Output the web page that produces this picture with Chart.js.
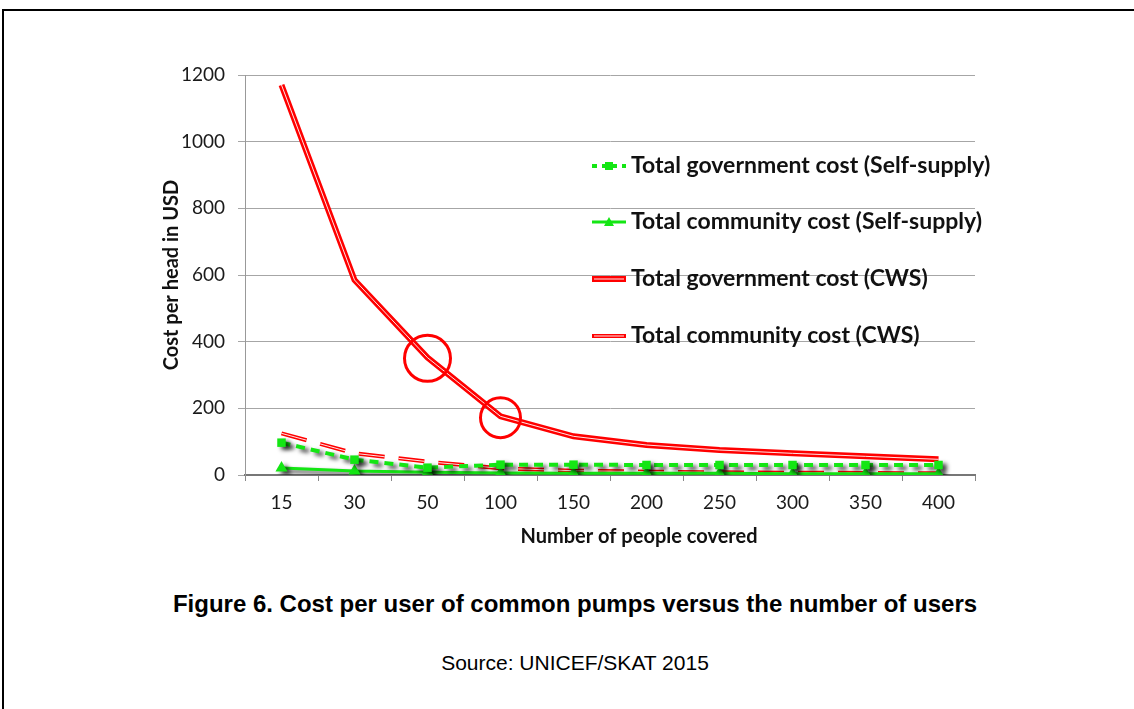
<!DOCTYPE html>
<html>
<head>
<meta charset="utf-8">
<script src="https://cdn.jsdelivr.net/npm/chart.js@4.4.1/dist/chart.umd.min.js"></script>
<style>
  html, body { margin: 0; padding: 0; background: #fff; }
  body { width: 1134px; height: 709px; position: relative; overflow: hidden; }
  #frame { position: absolute; left: 2px; top: 9px; width: 1140px; height: 710px;
           border-top: 2px solid #000; border-left: 2px solid #000; }
  #wrap { position: absolute; left: 0; top: 0; width: 1134px; height: 560px; }
  #caption { position: absolute; left: 0; width: 1150px; top: 590px; text-align: center;
             font-family: "Liberation Sans", Arial, sans-serif; font-weight: bold; font-size: 24px; color: #000; }
  #source { position: absolute; left: 0; width: 1150px; top: 651px; text-align: center;
            font-family: "Liberation Sans", Arial, sans-serif; font-size: 21px; color: #000; }
</style>
</head>
<body>
<div id="frame"></div>
<div id="wrap"><canvas id="c" width="1134" height="560"></canvas></div>
<div id="caption">Figure 6. Cost per user of common pumps versus the number of users</div>
<div id="source">Source: UNICEF/SKAT 2015</div>
<script>
// ---- data ----
const categories = ['15', '30', '50', '100', '150', '200', '250', '300', '350', '400'];
const govSelfSupply = [97, 46, 22, 31, 31, 30, 30, 30, 30, 30];
const communitySelfSupply = [21, 12, 8, 6, 5, 5, 5, 4, 4, 4];
const govCWS = [1170, 585, 352, 176, 116, 90, 75, 65, 56, 47];
const communityCWS = [125, 65, 40, 20, 13, 10, 8, 7, 6, 5];
const circledPoints = [null, null, 350, 172, null, null, null, null, null, null];
const yTicks = [0, 200, 400, 600, 800, 1000, 1200];
const seriesNames = [
  'Total government cost (Self-supply)',
  'Total community cost (Self-supply)',
  'Total government cost (CWS)',
  'Total community cost (CWS)'
];
const xTitle = 'Number of people covered';

const GREEN = '#14e614';
const RED = '#ff0000';
const FONT = 'Lato, "Open Sans", sans-serif';

Chart.defaults.font.family = FONT;
Chart.defaults.color = '#1a1a1a';

// shadow + double line plugin
const stylePlugin = {
  id: 'stylePlugin',
  beforeDatasetDraw(chart, args) {
    const ds = chart.data.datasets[args.index];
    const ctx = chart.ctx;
    ctx.save();
    if (ds.shadow) {
      ctx.shadowColor = 'rgba(0,0,0,0.75)';
      ctx.shadowBlur = 4;
      ctx.shadowOffsetX = 4;
      ctx.shadowOffsetY = 3;
    }
  },
  afterDatasetDraw(chart, args) {
    const ds = chart.data.datasets[args.index];
    const ctx = chart.ctx;
    ctx.restore();
    if (ds.doubleLine) {
      const pts = args.meta.data;
      ctx.save();
      ctx.strokeStyle = 'rgba(255,255,255,0.9)';
      ctx.lineWidth = 1;
      ctx.setLineDash(ds.borderDash || []);
      ctx.lineJoin = 'round';
      ctx.beginPath();
      pts.forEach((p, i) => { if (i === 0) ctx.moveTo(p.x, p.y); else ctx.lineTo(p.x, p.y); });
      ctx.stroke();
      ctx.restore();
    }
  }
};

// inline legend + x-axis title plugin
const legendPlugin = {
  id: 'inlineLegend',
  afterDraw(chart) {
    const ctx = chart.ctx;
    const ys = [166, 222, 279, 336];
    const x0 = 592, x1 = 626, tx = 631;
    ctx.save();
    for (let i = 0; i < 4; i++) {
      const ds = chart.data.datasets[i];
      const y = ys[i];
      ctx.strokeStyle = ds.borderColor;
      ctx.lineWidth = ds.borderWidth;
      ctx.setLineDash(i === 0 ? [5, 5] : []);
      ctx.beginPath(); ctx.moveTo(x0, y); ctx.lineTo(x1, y); ctx.stroke();
      ctx.setLineDash([]);
      if (ds.doubleLine) {
        ctx.strokeStyle = 'rgba(255,255,255,0.9)';
        ctx.lineWidth = 1;
        ctx.beginPath(); ctx.moveTo(x0 + 2, y); ctx.lineTo(x1 - 2, y); ctx.stroke();
      }
      const cx = (x0 + x1) / 2;
      ctx.fillStyle = GREEN;
      if (ds.pointStyle === 'rect') {
        ctx.fillRect(cx - 4, y - 4, 8, 8);
      } else if (ds.pointStyle === 'triangle') {
        ctx.beginPath(); ctx.moveTo(cx, y - 5); ctx.lineTo(cx + 5, y + 4); ctx.lineTo(cx - 5, y + 4); ctx.closePath(); ctx.fill();
      }
      ctx.fillStyle = '#111';
      ctx.font = 'bold 23px ' + FONT;
      ctx.textBaseline = 'middle';
      ctx.textAlign = 'left';
      ctx.fillText(seriesNames[i], tx, y);
    }
    // x axis title (offset to the right like the original)
    ctx.font = 'bold 20px ' + FONT;
    ctx.textAlign = 'center';
    ctx.textBaseline = 'middle';
    ctx.fillStyle = '#111';
    ctx.fillText(xTitle, 639, 537);
    ctx.restore();
  }
};

new Chart(document.getElementById('c'), {
  type: 'line',
  data: {
    labels: categories,
    datasets: [
      { label: seriesNames[0], data: govSelfSupply, borderColor: GREEN, backgroundColor: GREEN,
        borderWidth: 4, borderDash: [9, 6], pointStyle: 'rect', pointRadius: 6, pointBorderWidth: 0,
        tension: 0, shadow: true },
      { label: seriesNames[1], data: communitySelfSupply, borderColor: GREEN, backgroundColor: GREEN,
        borderWidth: 3, pointStyle: 'triangle', pointRadius: 7, pointBorderWidth: 0,
        tension: 0, shadow: true },
      { label: seriesNames[2], data: govCWS, borderColor: RED, backgroundColor: RED,
        borderWidth: 6, pointRadius: 0, tension: 0, doubleLine: true },
      { label: seriesNames[3], data: communityCWS, borderColor: RED, backgroundColor: RED,
        borderWidth: 4, borderDash: [26, 14], pointRadius: 0, tension: 0, doubleLine: true },
      { label: 'highlight', data: circledPoints, showLine: false, borderColor: RED,
        backgroundColor: 'rgba(0,0,0,0)', pointStyle: 'circle', pointRadius: [0, 0, 23, 20, 0, 0, 0, 0, 0, 0],
        pointBorderWidth: 3, order: -1 }
    ]
  },
  options: {
    responsive: false,
    animation: false,
    events: [],
    layout: { padding: { left: 150, right: 159, top: 75, bottom: 10 } },
    plugins: { legend: { display: false }, tooltip: { enabled: false } },
    scales: {
      x: {
        type: 'category',
        offset: true,
        grid: { offset: true, drawOnChartArea: false, tickLength: 6, color: '#888', lineWidth: 1 },
        border: { color: '#777', width: 2 },
        ticks: { padding: 10, font: { size: 19 }, color: '#1a1a1a', maxRotation: 0 },
        title: { display: false },
        afterFit(scale) { scale.height = 75; }
      },
      y: {
        min: 0, max: 1200,
        afterBuildTicks(scale) { scale.ticks = yTicks.map(v => ({ value: v })); },
        grid: { color: '#a6a6a6', lineWidth: 1, tickLength: 7 },
        border: { color: '#999', width: 1 },
        ticks: { padding: 13, font: { size: 19 }, color: '#1a1a1a', callback: (v) => String(v) },
        title: { display: true, text: 'Cost per head in USD', font: { size: 20, weight: 'bold' },
                 color: '#111', padding: { top: 10, bottom: 0 } },
        afterFit(scale) { scale.width = 95; }
      }
    }
  },
  plugins: [stylePlugin, legendPlugin]
});
</script>
</body>
</html>
